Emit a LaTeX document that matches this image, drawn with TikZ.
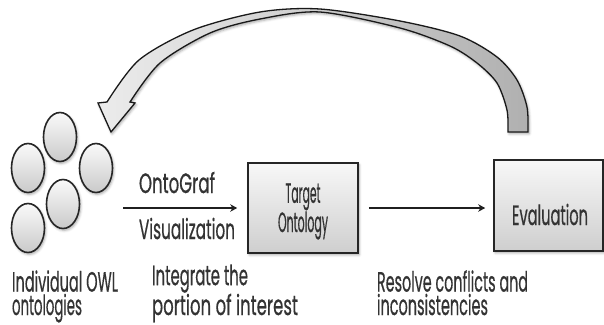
\documentclass[tikz,border=0pt]{standalone}
\usepackage{fontspec}
\setmainfont{Poppins}[FakeBold=0.8]
\usepackage{graphicx}
\usetikzlibrary{shapes.geometric,arrows.meta,shadows.blur}
\newcommand\fitw[2]{\resizebox{#1bp}{\height}{#2}}
\begin{document}
\begin{tikzpicture}[x=1bp,y=-1bp,
  txt/.style={inner sep=0pt, outer sep=0pt, text=black!80, font=\fontsize{28}{23.5}\selectfont},
  softshadow/.style={blur shadow={shadow xshift=1.2bp, shadow yshift=-1.8bp, shadow blur radius=2.5bp, shadow opacity=35}},
  ball/.style={ellipse, minimum width=33bp, minimum height=49bp, inner sep=0pt, draw=black!85, line width=1.6bp, top color=gray!4, bottom color=gray!42, softshadow},
  stagebox/.style={rectangle, draw=black!85, line width=1.6bp, top color=gray!6, bottom color=gray!38, inner sep=0pt, softshadow},
  conn/.style={draw=black!88, line width=1.8bp, -{Stealth[length=7bp,width=7.5bp]}},
  bigarrow/.style={draw=black!90, line width=1.3bp, left color=gray!15, right color=gray!62, softshadow}
]
\useasboundingbox (0,0) rectangle (604,324);

% feedback arrow
\path[bigarrow]
  plot[smooth] coordinates {(528,132) (527,107) (517,80) (497,57) (460,36) (400,21) (320,9) (260,12) (193,30) (139,60) (107,102)}
  -- (98,103) -- (111,132) -- (135,103) -- (130,102)
  -- plot[smooth] coordinates {(130,102) (160,63) (210,33) (260,19) (320,12) (400,28) (450,46) (477,63) (497,83) (507,110) (508,132)}
  -- cycle;

% ontologies
\node[ball] (ctop) at (60,137) {};
\node[ball] (cleft) at (28,168) {};
\node[ball] (cright) at (96,168) {};
\node[ball] (clow) at (63,204) {};
\node[ball] (cbot) at (28,228) {};

% boxes
\node[stagebox, minimum width=110bp, minimum height=90bp] (target) at (303,208) {};
\node[stagebox, minimum width=109bp, minimum height=91bp] (eval) at (548.5,205.5) {};

% connectors
\draw[conn] ([xshift=10bp]cright.east |- target.west) -- ([xshift=-10bp]target.west);
\draw[conn] ([xshift=10bp]target.east) -- ([xshift=-8bp]target.east -| eval.west);

% labels
\node[txt, anchor=base west] (onto) at (139,193) {\fitw{76}{OntoGraf}};
\node[txt, anchor=base west] (visu) at (139,239) {\fitw{96}{Visualization}};
\node[txt, anchor=base, align=center] (tgt) at (303,232) {\fitw{35}{Target}\\\fitw{50}{Ontology}};
\node[txt, anchor=base] (evl) at (550,225) {\fitw{76}{Evaluation}};

\node[txt, anchor=base west, align=left] (ind) at (12,315) {\fitw{106}{Individual OWL}\\\fitw{70}{ontologies}};
\node[txt, anchor=base west, align=left] (int) at (152,315) {\fitw{96}{Integrate the}\\\fitw{146}{portion of interest}};
\node[txt, anchor=base west, align=left] (res) at (377,315) {\fitw{151}{Resolve conflicts and}\\\fitw{111}{inconsistencies}};
\end{tikzpicture}
\end{document}
